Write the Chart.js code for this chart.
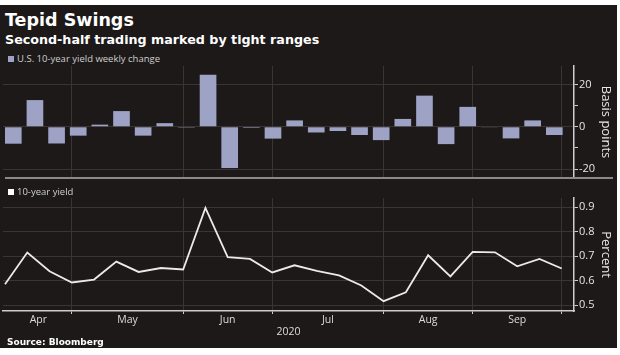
<!DOCTYPE html>
<html>
<head>
<meta charset="utf-8">
<script src="https://cdn.jsdelivr.net/npm/chart.js@4.4.1/dist/chart.umd.min.js"></script>
<style>
    body { margin: 0; background: #fff; width: 620px; height: 355px; overflow: hidden; position: relative; }
    #panel { position: absolute; left: 0; top: 5px; width: 617px; height: 343px; background: #1c1918; }
    .txt { position: absolute; white-space: nowrap; line-height: 1; }
    .title { left: 5px; top: 10px; color: #fff; font: bold 17.5px "DejaVu Sans"; }
    .subtitle { left: 5px; top: 32px; color: #fff; font: bold 12.7px "DejaVu Sans"; }
    .legend { left: 8px; color: #cfcfcf; font: 9.5px "Open Sans"; }
    .legend i { display: inline-block; width: 6px; height: 6px; margin-right: 3px; vertical-align: 0; }
    .source { left: 7px; top: 337px; color: #fff; font: bold 9px "DejaVu Sans"; }
    .sep { position: absolute; left: 5px; top: 177px; width: 608px; height: 2px; background: #8a8a8a; }
    .box { position: absolute; left: 0; width: 617px; }
</style>
</head>
<body>
<div id="panel"></div>
<div class="txt title">Tepid Swings</div>
<div class="txt subtitle">Second-half trading marked by tight ranges</div>
<div class="txt legend" style="top:52px"><i style="background:#9ea3c6"></i>U.S. 10-year yield weekly change</div>
<div class="box" style="top:58px;height:128px"><canvas id="changeChart"></canvas></div>
<div class="sep"></div>
<div class="txt legend" style="top:185px"><i style="background:#fff"></i>10-year yield</div>
<div class="box" style="top:190px;height:150px"><canvas id="yieldChart"></canvas></div>
<div class="txt source">Source: Bloomberg</div>

<script>
// weekly readings, early April to late September 2020
const weeklyChangeBp = [-8.0, 12.6, -7.9, -4.2, 1.0, 7.4, -4.2, 1.7, -0.4, 24.6, -19.5, -0.5, -5.6,
    3.0, -2.7, -2.0, -3.9, -6.3, 3.7, 14.7, -8.2, 9.4, -0.3, -5.5, 3.0, -3.9];
const yieldPct = [0.586, 0.715, 0.639, 0.593, 0.605, 0.678, 0.636, 0.652, 0.646, 0.897, 0.696, 0.689, 0.634,
    0.663, 0.640, 0.622, 0.581, 0.517, 0.553, 0.704, 0.618, 0.718, 0.716, 0.659, 0.689, 0.650];
const monthLabels = ["Apr", "May", "Jun", "Jul", "Aug", "Sep"];
const monthEndWeek = [3, 8, 12, 17, 21, 25]; // last weekly reading of each month
const bpTicks = [-20, -10, 0, 10, 20];
const bpLabels = [-20, 0, 20];
const pctTicks = [0.5, 0.55, 0.6, 0.65, 0.7, 0.75, 0.8, 0.85, 0.9];
const pctLabels = [0.5, 0.6, 0.7, 0.8, 0.9];

const gridColor = "#3a3532";
const axisColor = "#cdcdcd";

Chart.defaults.font.family = "Open Sans";
Chart.defaults.color = "#e6e6e6";

// month labels sit halfway between month-end gridlines
const monthMid = monthEndWeek.map((w, i) => ((i === 0 ? 0 : monthEndWeek[i - 1]) + w) / 2);

const setTicks = list => scale => { scale.ticks = list.map(v => ({ value: v })); };
const isMajor = (list, v) => list.some(m => Math.abs(m - v) < 1e-9);

function monthGridAxis(showBorder) {
    return {
        type: "linear", position: "bottom", min: -0.09, max: 25.55, offset: false,
        afterBuildTicks: setTicks(monthEndWeek),
        ticks: { display: false },
        grid: { color: gridColor, tickColor: axisColor, drawTicks: showBorder, tickLength: 3, offset: false },
        border: { display: showBorder, color: axisColor, width: 1.5 },
        afterFit: s => { s.height = showBorder ? 3 : 0; }
    };
}

function rightAxis(min, max, ticks, labels, title, fmt) {
    return {
        type: "linear", position: "right", min: min, max: max,
        afterBuildTicks: setTicks(ticks),
        ticks: {
            padding: 1, color: "#e6e6e6", font: { size: 11 },
            callback: v => isMajor(labels, v) ? fmt(v) : ""
        },
        grid: {
            color: c => isMajor(labels, c.tick.value) ? gridColor : "rgba(0,0,0,0)",
            tickColor: axisColor, tickLength: 4
        },
        border: { display: true, color: axisColor, width: 1.5 },
        title: { display: true, text: title, color: "#e6e6e6", font: { size: 13 }, padding: { top: 3, bottom: 3 } },
        afterFit: s => { s.width = 43; }
    };
}

new Chart(document.getElementById("changeChart"), {
    type: "bar",
    data: {
        datasets: [{
            label: "U.S. 10-year yield weekly change",
            data: weeklyChangeBp.map((v, i) => ({ x: i, y: v })),
            xAxisID: "xb",
            backgroundColor: "#9ea3c6",
            categoryPercentage: 1,
            barPercentage: 0.77
        }]
    },
    options: {
        maintainAspectRatio: false,
        animation: false,
        layout: { padding: { top: 8, bottom: 8, left: 3, right: 0 } },
        plugins: { legend: { display: false }, tooltip: { enabled: false } },
        scales: {
            xb: {
                type: "linear", position: "bottom", min: -0.476, max: 25.91, offset: false,
                ticks: { display: false }, grid: { display: false, drawTicks: false, offset: false },
                border: { display: false },
                afterFit: s => { s.height = 0; }
            },
            xg: monthGridAxis(false),
            y: rightAxis(-24.2, 28.7, bpTicks, bpLabels, "Basis points", v => String(v))
        }
    }
});

new Chart(document.getElementById("yieldChart"), {
    type: "line",
    data: {
        datasets: [{
            label: "10-year yield",
            data: yieldPct.map((v, i) => ({ x: i, y: v })),
            borderColor: "#eceae6",
            borderWidth: 1.8,
            pointRadius: 0,
            tension: 0
        }]
    },
    options: {
        maintainAspectRatio: false,
        animation: false,
        layout: { padding: { top: 8, bottom: 2, left: 3, right: 0 } },
        plugins: { legend: { display: false }, tooltip: { enabled: false } },
        scales: {
            x: monthGridAxis(true),
            xm: {
                type: "linear", position: "bottom", min: -0.09, max: 25.55,
                afterBuildTicks: setTicks(monthMid),
                ticks: { color: "#dcdcdc", font: { size: 10.5 }, padding: 0, maxRotation: 0,
                    callback: (v, i) => monthLabels[i] },
                grid: { display: false, drawTicks: false }, border: { display: false },
                title: { display: true, text: "2020", color: "#dcdcdc", font: { size: 10.5 }, padding: { top: 0, bottom: 0 } },
                afterFit: s => { s.height = 24; }
            },
            y: rightAxis(0.477, 0.937, pctTicks, pctLabels, "Percent", v => v.toFixed(1))
        }
    }
});
</script>
</body>
</html>
